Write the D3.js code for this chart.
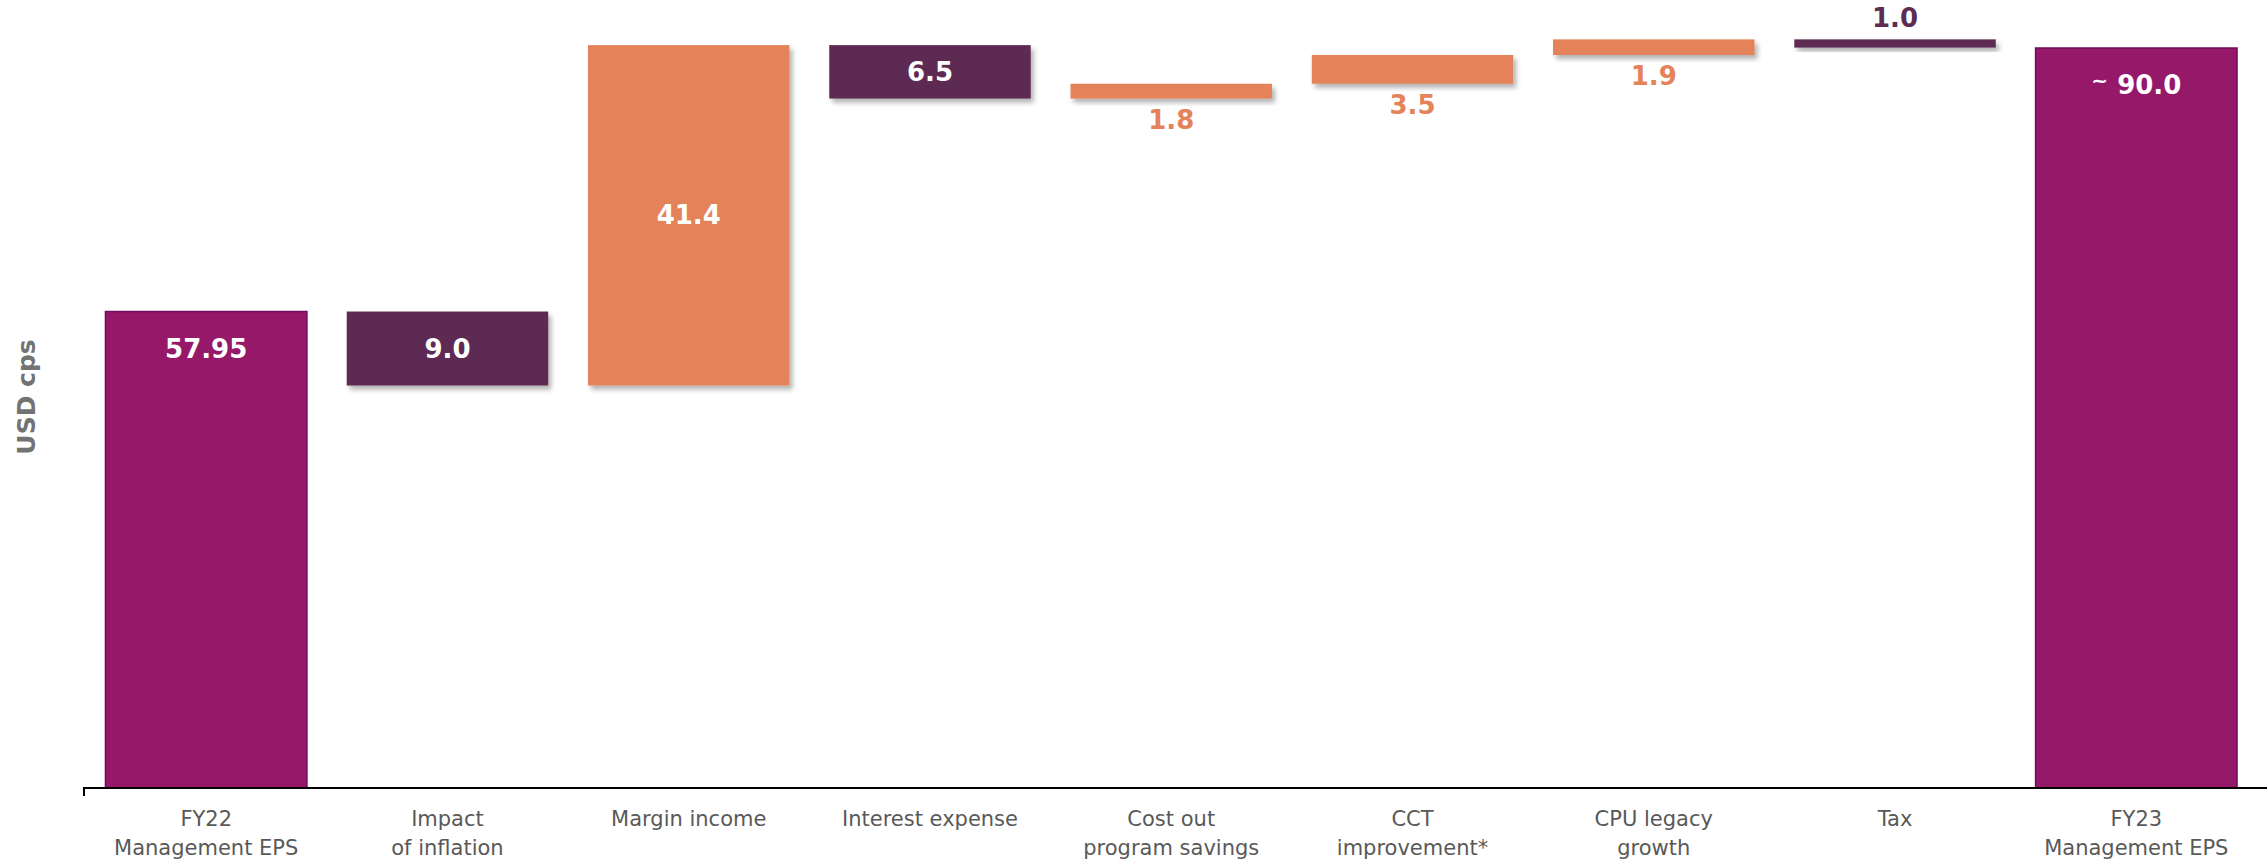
<!DOCTYPE html>
<html lang="en">
<head>
    <meta charset="UTF-8">
    <title>FY22 to FY23 Management EPS</title>
    <style>
        html, body {
            margin: 0px;
            padding: 0px;
            width: 100%;
            height: 100%;
            background-color: white;
            font-family: 'DejaVu Sans', sans-serif;
        }
        #chart {
            width: 2267px;
            height: 863px;
        }
        .cat-label {
            font-size: 21px;
            fill: #595959;
        }
        .val-label {
            font-size: 26px;
            font-weight: bold;
        }
    </style>
</head>
<body>
    <div id="chart"></div>
    <script src="https://d3js.org/d3.v7.min.js"></script>
    <script>

        // chart data
        var categories = ["FY22|Management EPS", "Impact|of inflation", "Margin income", "Interest expense",
                          "Cost out|program savings", "CCT|improvement*", "CPU legacy|growth", "Tax", "FY23|Management EPS"];
        var values = [57.95, -9.0, 41.4, -6.5, 1.8, 3.5, 1.9, -1.0, 90.0];
        var isTotal = [true, false, false, false, false, false, false, false, true];
        var valueLabels = ["57.95", "9.0", "41.4", "6.5", "1.8", "3.5", "1.9", "1.0", "90.0"];
        var yTitle = "USD cps";

        var totalColor = "#951869";
        var downColor = "#5c2c53";
        var upColor = "#e4835a";

        var width = 2267;
        var height = 863;
        var baseline = 788;

        var svg = d3.select("#chart")
            .append("svg")
            .attr("width", width)
            .attr("height", height);

        // soft shadow under the step bars
        var defs = svg.append("defs");
        var shadow = defs.append("filter")
            .attr("id", "shadow")
            .attr("x", "-10%").attr("y", "-10%")
            .attr("width", "130%").attr("height", "160%");
        shadow.append("feDropShadow")
            .attr("dx", 3)
            .attr("dy", 4)
            .attr("stdDeviation", 2.5)
            .attr("flood-color", "#000")
            .attr("flood-opacity", 0.3);

        var x_scale = d3.scaleBand()
            .domain(d3.range(categories.length))
            .range([84, 2258.5])
            .paddingInner(0.165)
            .paddingOuter(0.089);

        var y_scale = d3.scaleLinear()
            .domain([0, 90])
            .range([baseline, 48]);

        // running totals for the waterfall
        var bars = [];
        var running = 0;
        values.forEach(function(v, i) {
            var b = {i: i, value: v, total: isTotal[i], label: valueLabels[i]};
            if (isTotal[i]) {
                b.lo = 0;
                b.hi = v;
                running = v;
            } else {
                b.lo = Math.min(running, running + v);
                b.hi = Math.max(running, running + v);
                running = running + v;
            }
            bars.push(b);
        });

        function barColor(d) {
            if (d.total) return totalColor;
            return d.value < 0 ? downColor : upColor;
        }

        svg.selectAll(".bar")
            .data(bars)
            .enter()
            .append("rect")
            .attr("class", "bar")
            .attr("x", function(d) { return x_scale(d.i); })
            .attr("width", x_scale.bandwidth())
            .attr("y", function(d) { return y_scale(d.hi); })
            .attr("height", function(d) { return y_scale(d.lo) - y_scale(d.hi); })
            .attr("fill", barColor)
            .attr("stroke", function(d) { return d.total ? "#6e0d5e" : "none"; })
            .attr("stroke-width", 1.5)
            .attr("filter", function(d) { return d.total ? null : "url(#shadow)"; });

        // value labels
        var labels = svg.selectAll(".val-label")
            .data(bars)
            .enter()
            .append("text")
            .attr("class", "val-label")
            .attr("text-anchor", "middle")
            .attr("x", function(d) { return x_scale(d.i) + x_scale.bandwidth() / 2; })
            .attr("y", function(d) {
                var top = y_scale(d.hi), bottom = y_scale(d.lo);
                if (d.total) return top + 46;
                if (bottom - top > 40) return (top + bottom) / 2 + 9;
                if (d.value > 0) return bottom + 30;
                return top - 12;
            })
            .attr("fill", function(d) {
                var h = y_scale(d.lo) - y_scale(d.hi);
                if (d.total || h > 40) return "white";
                return barColor(d);
            });

        labels.each(function(d) {
            var t = d3.select(this);
            if (d.i === categories.length - 1) {
                t.append("tspan")
                    .attr("font-size", "20px")
                    .attr("dy", "-7")
                    .text("~");
                t.append("tspan")
                    .attr("dy", "7")
                    .text(" " + d.label);
            } else {
                t.text(d.label);
            }
        });

        // x axis line with a small tick at the left end
        svg.append("path")
            .attr("d", "M84," + (baseline + 8) + "V" + baseline + "H" + width)
            .attr("fill", "none")
            .attr("stroke", "#000")
            .attr("stroke-width", 2);

        // category labels
        var cats = svg.selectAll(".cat-label")
            .data(categories)
            .enter()
            .append("text")
            .attr("class", "cat-label")
            .attr("text-anchor", "middle")
            .attr("x", function(d, i) { return x_scale(i) + x_scale.bandwidth() / 2; })
            .attr("y", 826);

        cats.each(function(d) {
            var t = d3.select(this);
            var x = t.attr("x");
            d.split("|").forEach(function(line, j) {
                t.append("tspan")
                    .attr("x", x)
                    .attr("dy", j === 0 ? 0 : 29)
                    .text(line);
            });
        });

        // y axis title
        svg.append("text")
            .attr("transform", "translate(35,397) rotate(-90)")
            .attr("text-anchor", "middle")
            .attr("font-size", "25px")
            .attr("font-weight", "bold")
            .attr("fill", "#737373")
            .text(yTitle);

    </script>
</body>
</html>
